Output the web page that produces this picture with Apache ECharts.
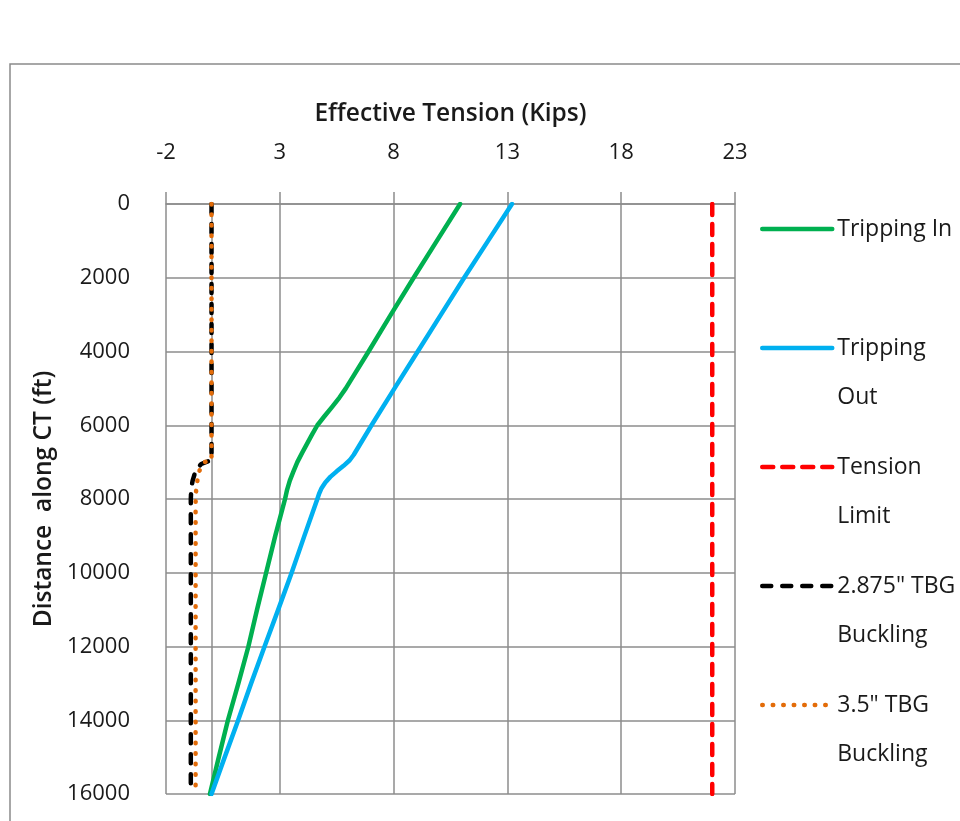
<!DOCTYPE html>
<html>
<head>
<meta charset="utf-8">
<title>Effective Tension along CT</title>
<script src="https://cdn.jsdelivr.net/npm/echarts@6/dist/echarts.min.js"></script>
<style>
  html, body { margin: 0; padding: 0; background: #ffffff; }
  #chart { width: 960px; height: 821px; }
</style>
</head>
<body>
<div id="chart"></div>
<script>
// Tick settings
const xTicks = { min: -2, max: 23, step: 5 };
const yTicks = { min: 0, max: 16000, step: 2000 };

// Tripping In: distance along CT (ft) and effective tension (kips)
const depthIn   = [0, 1000, 2000, 3000, 4000, 4750, 5000, 5250, 5500, 5750, 6000, 6250, 6500, 6750, 7000, 7250, 7500, 7750, 8000, 9000, 10000, 11000, 12000, 13000, 14000, 15000, 16000];
const tensionIn = [10.92, 9.9, 8.88, 7.88, 6.9, 6.15, 5.9, 5.62, 5.3, 4.97, 4.65, 4.42, 4.2, 3.98, 3.77, 3.6, 3.44, 3.32, 3.23, 2.8, 2.4, 2.0, 1.62, 1.18, 0.72, 0.32, -0.07];

// Tripping Out
const depthOut   = [0, 1000, 2000, 3000, 4000, 5000, 6000, 6800, 6950, 7100, 7250, 7400, 7550, 7700, 7850, 8000, 9000, 10000, 11000, 12000, 13000, 14000, 15000, 16000];
const tensionOut = [13.2, 12.15, 11.1, 10.08, 9.06, 8.04, 7.03, 6.25, 6.07, 5.8, 5.5, 5.22, 5.0, 4.84, 4.73, 4.65, 4.08, 3.52, 2.93, 2.33, 1.74, 1.17, 0.58, 0];

// Tension limit of the coiled tubing
const depthLimit   = [0, 16000];
const tensionLimit = [22, 22];

// Helical buckling limit inside 2.875" tubing
const depthTbg2875   = [0, 6950, 7000, 7050, 7150, 7300, 7500, 7700, 8000, 16000];
const tensionTbg2875 = [0, 0, -0.25, -0.45, -0.6, -0.73, -0.83, -0.89, -0.91, -0.91];

// Helical buckling limit inside 3.5" tubing
const depthTbg35   = [0, 6950, 7000, 7080, 7250, 7500, 7800, 8100, 16000];
const tensionTbg35 = [0, 0, -0.3, -0.42, -0.54, -0.62, -0.68, -0.7, -0.7];

const seriesNames = ['Tripping In', 'Tripping Out', 'Tension Limit', '2.875" TBG Buckling', '3.5" TBG Buckling'];
const legendLines = [
  ['Tripping In'],
  ['Tripping', 'Out'],
  ['Tension', 'Limit'],
  ['2.875" TBG', 'Buckling'],
  ['3.5" TBG', 'Buckling']
];

function pairs(depths, tensions) {
  return depths.map((d, i) => [tensions[i], d]);
}

const FONT = 'Open Sans';
const GRID_COLOR = '#8c8c8c';
const TEXT_COLOR = '#1a1a1a';
const LINE_W = 4.5;

const chart = echarts.init(document.getElementById('chart'), null, { renderer: 'canvas' });

const option = {
  backgroundColor: '#ffffff',
  animation: false,
  textStyle: { fontFamily: FONT },
  graphic: [{
    type: 'rect',
    silent: true,
    shape: { x: 10, y: 64, width: 1000, height: 820 },
    style: { fill: 'none', stroke: '#8a8a8a', lineWidth: 1.5 }
  }],
  grid: { left: 166, top: 204, right: 225, bottom: 27, containLabel: false },
  legend: {
    orient: 'vertical',
    left: 760,
    top: 155.5,
    padding: 0,
    itemWidth: 70,
    itemHeight: 14,
    itemGap: -28,
    data: seriesNames,
    itemStyle: { opacity: 0 },
    lineStyle: { width: LINE_W, cap: 'round' },
    textStyle: { fontFamily: FONT, fontSize: 23, color: TEXT_COLOR, lineHeight: 49 },
    formatter: name => {
      const lines = legendLines[seriesNames.indexOf(name)];
      return '\n' + lines.join('\n') + (lines.length === 1 ? '\n' : '');
    }
  },
  xAxis: {
    type: 'value',
    position: 'top',
    min: xTicks.min,
    max: xTicks.max,
    interval: xTicks.step,
    name: 'Effective Tension (Kips)',
    nameLocation: 'middle',
    nameGap: 77,
    nameTextStyle: { fontFamily: FONT, fontSize: 24.5, fontWeight: 600, color: TEXT_COLOR },
    axisLine: { show: true, lineStyle: { color: GRID_COLOR, width: 1.5 } },
    axisTick: { show: true, inside: false, length: 12, lineStyle: { color: GRID_COLOR, width: 1.5 } },
    axisLabel: { margin: 40, fontFamily: FONT, fontSize: 22, color: TEXT_COLOR },
    splitLine: { show: true, lineStyle: { color: GRID_COLOR, width: 1.5 } }
  },
  yAxis: {
    type: 'value',
    inverse: true,
    min: yTicks.min,
    max: yTicks.max,
    interval: yTicks.step,
    name: 'Distance  along CT (ft)',
    nameLocation: 'middle',
    nameGap: 108,
    nameTextStyle: { fontFamily: FONT, fontSize: 24.5, fontWeight: 600, color: TEXT_COLOR },
    axisLine: { show: true, lineStyle: { color: GRID_COLOR, width: 1.5 } },
    axisTick: { show: false },
    axisLabel: { margin: 36, fontFamily: FONT, fontSize: 22, color: TEXT_COLOR, formatter: v => String(v) },
    splitLine: { show: true, lineStyle: { color: GRID_COLOR, width: 1.5 } }
  },
  series: [
    {
      name: seriesNames[0], type: 'line', showSymbol: false, symbol: 'none',
      data: pairs(depthIn, tensionIn),
      lineStyle: { color: '#00b050', width: LINE_W, cap: 'round', join: 'round' },
      itemStyle: { color: '#00b050' }
    },
    {
      name: seriesNames[1], type: 'line', showSymbol: false, symbol: 'none',
      data: pairs(depthOut, tensionOut),
      lineStyle: { color: '#00b0f0', width: LINE_W, cap: 'round', join: 'round' },
      itemStyle: { color: '#00b0f0' }
    },
    {
      name: seriesNames[2], type: 'line', showSymbol: false, symbol: 'none',
      data: pairs(depthLimit, tensionLimit),
      lineStyle: { color: '#ff0000', width: LINE_W, type: [11, 9], cap: 'round' },
      itemStyle: { color: '#ff0000' }
    },
    {
      name: seriesNames[3], type: 'line', showSymbol: false, symbol: 'none',
      data: pairs(depthTbg2875, tensionTbg2875),
      lineStyle: { color: '#000000', width: LINE_W, type: [9, 11], cap: 'round', join: 'round' },
      itemStyle: { color: '#000000' }
    },
    {
      name: seriesNames[4], type: 'line', showSymbol: false, symbol: 'none',
      data: pairs(depthTbg35, tensionTbg35),
      lineStyle: { color: '#e36c09', width: LINE_W, type: [0.5, 10], cap: 'round', join: 'round' },
      itemStyle: { color: '#e36c09' }
    }
  ]
};

chart.setOption(option);
</script>
</body>
</html>
